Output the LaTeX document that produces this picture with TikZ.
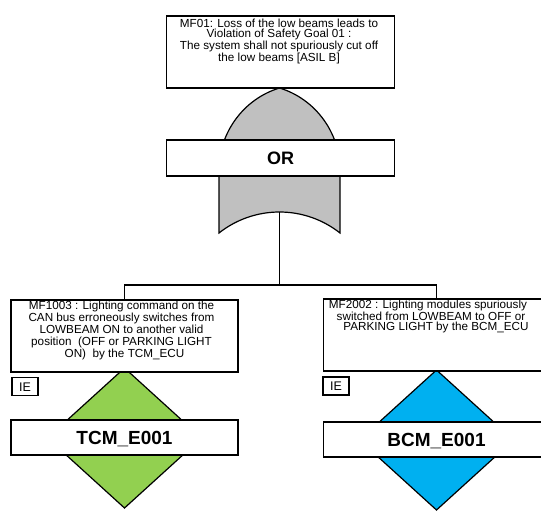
\documentclass[tikz,border=0pt]{standalone}
\usepackage{fontspec}
\setmainfont{Liberation Sans}
\definecolor{gategray}{RGB}{192,192,192}
\definecolor{iegreen}{RGB}{146,208,80}
\definecolor{ieblue}{RGB}{0,176,240}
\begin{document}
\begin{tikzpicture}[x=1pt,y=-1pt,line join=miter,
  box/.style={draw=black,fill=white,line width=1.2pt,inner sep=0pt,rectangle},
  desc/.style={inner sep=0pt,align=center,anchor=north,font=\fontsize{11.7}{10.3}\selectfont},
  descwide/.style={desc,font=\fontsize{11.7}{12}\selectfont},
  gatelbl/.style={font=\bfseries\fontsize{18}{18}\selectfont,text height=12.9pt,text depth=0pt},
  evlbl/.style={font=\bfseries\fontsize{19}{19}\selectfont,text height=13.6pt,text depth=0pt},
  ielbl/.style={font=\fontsize{12.5}{12.5}\selectfont,text height=9pt,text depth=0pt},
  wire/.style={draw=black,line width=1.2pt},
  shapeline/.style={draw=black,line width=1.2pt}]
\useasboundingbox (0,0) rectangle (541,512);
\clip (0,0) rectangle (541,512);

% OR gate body
\path[shapeline,fill=gategray] (219,233) -- (219,170)
  .. controls (219,132.3) and (243.9,98.8) .. (279.5,88)
  .. controls (315.1,98.8) and (340,132.3) .. (340,170)
  -- (340,233)
  .. controls (304.5,205) and (254.5,205) .. (219,233) -- cycle;
\coordinate (gout) at (279.5,212);
\coordinate (junc) at (279.5,285);

% diamonds (intermediate events)
\path[shapeline,fill=iegreen] (124.5,368) -- (201.5,438) -- (124.5,508) -- (47.5,438) -- cycle;
\path[shapeline,fill=ieblue] (436.5,370) -- (513.5,440) -- (436.5,510) -- (359.5,440) -- cycle;

% top event
\node[box,minimum width=228pt,minimum height=72pt] (topbox) at (280.5,52) {};
\node[desc] (toptext) at (279,18.8) {MF01: Loss of the low beams leads to\\Violation of Safety Goal 01 :\\The system shall not spuriously cut off\\the low beams [ASIL B]};

% OR label
\node[box,gatelbl,minimum width=228pt,minimum height=36pt] (orbox) at (280.5,158) {OR};

% connectors
\draw[wire] (gout) -- (junc);

% left event
\node[box,minimum width=227pt,minimum height=72pt] (lbox) at (124.5,336) {};
\node[descwide] (ltext) at (121.5,300.8) {MF1003 : Lighting command on the\\CAN bus erroneously switches from\\LOWBEAM ON to another valid\\position~~(OFF or PARKING LIGHT\\ON)~~by the TCM\_ECU\kern-6pt};
\node[box,ielbl,minimum width=26pt,minimum height=17.5pt] (ie1) at (25,386.5) {IE};
\node[box,evlbl,minimum width=227pt,minimum height=35pt] (tcm) at (124.5,437.5) {TCM\_E001};

% right event
\node[box,minimum width=226pt,minimum height=72pt] (rbox) at (436.5,335) {};
\node[desc,font=\fontsize{11.7}{10.4}\selectfont] (rtext) at (436,299.8) {MF2002 : Lighting modules spuriously\kern16pt\\switched from LOWBEAM to OFF or\kern10pt\\PARKING LIGHT by the BCM\_ECU};
\node[box,ielbl,minimum width=26pt,minimum height=18pt] (ie2) at (336,386) {IE};
\node[box,evlbl,minimum width=226pt,minimum height=35pt] (bcm) at (436.5,439.5) {BCM\_E001};

\draw[wire] (lbox.north) |- (junc) -| (rbox.north);
\end{tikzpicture}
\end{document}
